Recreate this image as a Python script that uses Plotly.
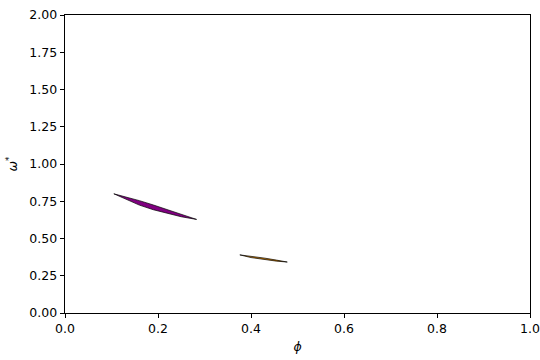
import plotly.graph_objects as go

# Purple region (phi, upper omega, lower omega)
phi_purple = [0.105, 0.13, 0.16, 0.19, 0.22, 0.25, 0.283]
upper_purple = [0.800, 0.781, 0.754, 0.725, 0.694, 0.662, 0.628]
lower_purple = [0.800, 0.763, 0.724, 0.693, 0.668, 0.646, 0.628]

# Orange region
phi_orange = [0.376, 0.40, 0.43, 0.455, 0.478]
upper_orange = [0.390, 0.381, 0.368, 0.355, 0.342]
lower_orange = [0.390, 0.372, 0.357, 0.348, 0.342]

x_ticks = [0.0, 0.2, 0.4, 0.6, 0.8, 1.0]
y_ticks = [0.0, 0.25, 0.5, 0.75, 1.0, 1.25, 1.5, 1.75, 2.0]

fig = go.Figure()

def region(phi, up, lo, color):
    xs = list(phi) + list(reversed(phi)) + [phi[0]]
    ys = list(up) + list(reversed(lo)) + [up[0]]
    fig.add_trace(go.Scatter(x=xs, y=ys, mode="lines", fill="toself",
                             fillcolor=color, line=dict(color="black", width=0.7),
                             hoverinfo="skip", showlegend=False))

region(phi_purple, upper_purple, lower_purple, "#800080")
region(phi_orange, upper_orange, lower_orange, "#d98200")

font = dict(family="DejaVu Sans", size=12.5, color="black")
axis_common = dict(showline=True, linecolor="black", linewidth=1, mirror=True,
                   ticks="outside", ticklen=4.4, tickwidth=1, tickcolor="black",
                   showgrid=False, zeroline=False, automargin=False,
                   tickfont=font)

fig.update_xaxes(range=[0, 1], tickvals=x_ticks,
                 ticktext=[f"{v:.1f}" for v in x_ticks],
                 title=dict(text="<i>ϕ</i>", font=font, standoff=6),
                 **axis_common)
fig.update_yaxes(range=[0, 2], tickvals=y_ticks,
                 ticktext=[f"{v:.2f}" for v in y_ticks],
                 title=dict(text="<i>ω</i><sup>*</sup>", font=font, standoff=8),
                 **axis_common)

fig.update_layout(width=540, height=360, margin=dict(l=65, r=10, t=15, b=47),
                  plot_bgcolor="white", paper_bgcolor="white")

fig.write_html("out.html")
